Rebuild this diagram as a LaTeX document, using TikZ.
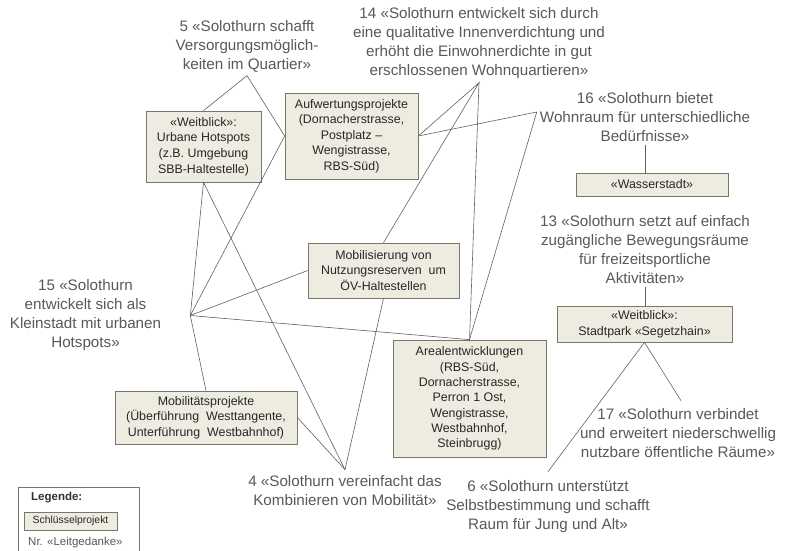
\documentclass[tikz,border=0pt]{standalone}
\usepackage{fontspec}
\setmainfont{Liberation Sans}
\definecolor{boxfill}{HTML}{EEECE1}
\definecolor{boxline}{HTML}{77776A}
\definecolor{txtgrey}{HTML}{595959}
\colorlet{linecol}{black!62}
\tikzstyle{projekt}=[draw=boxline,fill=boxfill,text=black!85,align=center,inner sep=0pt,
                     line width=0.7pt,font=\fontsize{12.4}{15.6}\selectfont]
\tikzstyle{gedanke}=[text=txtgrey,align=center,inner sep=3pt,font=\fontsize{15.2}{19}\selectfont]
\tikzstyle{verb}=[draw=linecol,line width=0.6pt]

\begin{document}
\begin{tikzpicture}[x=1pt,y=-1pt]
     \fill[white] (0,0) rectangle (790,551);
     \useasboundingbox (0,0) rectangle (790,551);

     % Leitgedanken
     \node[gedanke] (l5)  at (247,46.5) {5 «Solothurn schafft\\Versorgungsmöglich-\\keiten im Quartier»};
     \node[gedanke] (l14) at (479,43)   {14 «Solothurn entwickelt sich durch\\eine qualitative Innenverdichtung und\\erhöht die Einwohnerdichte in gut\\erschlossenen Wohnquartieren»};
     \node[gedanke] (l16) at (645,117)  {16 «Solothurn bietet\\Wohnraum für unterschiedliche\\Bedürfnisse»};
     \node[gedanke] (l13) at (645,250)  {13 «Solothurn setzt auf einfach\\zugängliche Bewegungsräume\\für freizeitsportliche\\Aktivitäten»};
     \node[gedanke] (l15) at (85.5,315.5) {15 «Solothurn\\entwickelt sich als\\Kleinstadt mit urbanen\\Hotspots»};
     \node[gedanke] (l4)  at (345,491)  {4 «Solothurn vereinfacht das\\Kombinieren von Mobilität»};
     \node[gedanke] (l6)  at (548,507)  {6 «Solothurn unterstützt\\Selbstbestimmung und schafft\\Raum für Jung und Alt»};
     \node[gedanke] (l17) at (678,433.5) {17 «Solothurn verbindet\\und erweitert niederschwellig\\nutzbare öffentliche Räume»};

     % Schluesselprojekte
     \node[projekt,minimum width=115pt,minimum height=71pt] (hot)   at (203.5,146.5) {«Weitblick»:\\Urbane Hotspots\\(z.B. Umgebung\\SBB-Haltestelle)};
     \node[projekt,minimum width=133pt,minimum height=86pt] (auf)   at (351.5,136)   {Aufwertungsprojekte\\(Dornacherstrasse,\\Postplatz –\\Wengistrasse,\\RBS-Süd)};
     \node[projekt,minimum width=151pt,minimum height=55pt] (mob)   at (383.5,270.5) {Mobilisierung von\\Nutzungsreserven~ um\\ÖV-Haltestellen};
     \node[projekt,minimum width=153pt,minimum height=117pt,font=\fontsize{12.4}{15.3}\selectfont] (areal) at (469.5,398.5) {Arealentwicklungen\\(RBS-Süd,\\Dornacherstrasse,\\Perron 1 Ost,\\Wengistrasse,\\Westbahnhof,\\Steinbrugg)};
     \node[projekt,minimum width=182pt,minimum height=53pt] (mobil) at (206,417.5)   {Mobilitätsprojekte\\(Überführung~ Westtangente,\\Unterführung~ Westbahnhof)};
     \node[projekt,minimum width=152pt,minimum height=23pt] (wasser) at (652,184.5) {«Wasserstadt»};
     \node[projekt,minimum width=175pt,minimum height=36pt] (park)  at (644.5,324)   {«Weitblick»:\\Stadtpark «Segetzhain»};

     % Anschlusspunkte
     \coordinate (j5)  at (l5.south);
     \coordinate (j14) at ([yshift=-1pt]l14.south);
     \coordinate (j16) at ([yshift=5pt]l16.west);
     \coordinate (j15) at ([xshift=26pt]l15.east);
     \coordinate (j4)  at ([yshift=3pt]l4.north);
     \coordinate (j6)  at ([yshift=6pt]l6.north);
     \coordinate (j17) at ([xshift=3pt,yshift=5pt]l17.north);

     \draw[verb] (hot.north) -- (j5) -- (auf.west);
     \draw[verb] (j15) -- (hot.south) -- (j4);
     \draw[verb] (auf.west) -- (j15) -- (mob.west);
     \draw[verb] (mobil.north) -- (j15) -- (areal.north);
     \draw[verb] (auf.east) -- (j14) -- (mob.north);
     \draw[verb] (j14) -- (areal.north) -- (j16) -- (auf.east);
     \draw[verb] (mob.south) -- (j4) -- (mobil.east);
     \draw[verb] (j6) -- (park.south) -- (j17);
     \draw[verb] (l16.south) -- (l16.south |- wasser.north);
     \draw[verb] (l13.south) -- (l13.south |- park.north);

     % Legende
     \node[draw=boxline,line width=0.7pt,minimum width=121pt,minimum height=70pt,anchor=north west] (leg) at (18,487) {};
     \node[anchor=west,inner sep=0pt,text=black!80,font=\bfseries\fontsize{11.5}{14}\selectfont] (legtitel) at (31,498) {Legende:};
     \node[projekt,minimum width=93pt,minimum height=18pt,font=\fontsize{10.4}{12}\selectfont] (legprojekt) at (70.5,521) {Schlüsselprojekt};
     \node[anchor=west,inner sep=0pt,text=txtgrey,font=\fontsize{11.5}{14}\selectfont] (leggedanke) at (28,543) {Nr. «Leitgedanke»};
\end{tikzpicture}
\end{document}
